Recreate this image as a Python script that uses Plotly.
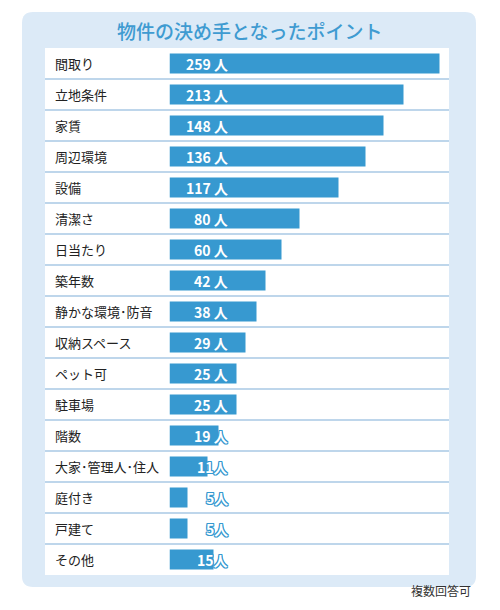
import plotly.graph_objects as go

categories = ['間取り', '立地条件', '家賃', '周辺環境', '設備', '清潔さ', '日当たり',
              '築年数', '静かな環境･防音', '収納スペース', 'ペット可', '駐車場', '階数',
              '大家･管理人･住人', '庭付き', '戸建て', 'その他']
counts = [259, 213, 148, 136, 117, 80, 60, 42, 38, 29, 25, 25, 19, 11, 5, 5, 15]
# bar lengths as drawn in the original graphic (not proportional to the counts)
bar_len = [270, 234, 214, 196, 169, 130, 112, 96, 87, 76, 67, 67, 49, 38, 18, 18, 44]

W, H = 500, 610
BLUE = '#3799d0'
PANEL = '#dceaf7'
JP = 'Noto Sans CJK JP'


def px(x):
    return x / W


def py(y):
    return 1 - y / H


fig = go.Figure(go.Bar(
    x=bar_len, y=categories, orientation='h',
    marker=dict(color=BLUE, line=dict(width=0)),
    width=0.65, hoverinfo='skip'
))

# rounded light-blue panel
x0, x1, y0, y1, r = 22, 476, 12, 587, 11
path = (f"M {px(x0 + r)} {py(y0)} L {px(x1 - r)} {py(y0)} "
        f"Q {px(x1)} {py(y0)} {px(x1)} {py(y0 + r)} L {px(x1)} {py(y1 - r)} "
        f"Q {px(x1)} {py(y1)} {px(x1 - r)} {py(y1)} L {px(x0 + r)} {py(y1)} "
        f"Q {px(x0)} {py(y1)} {px(x0)} {py(y1 - r)} L {px(x0)} {py(y0 + r)} "
        f"Q {px(x0)} {py(y0)} {px(x0 + r)} {py(y0)} Z")
shapes = [
    dict(type='path', xref='paper', yref='paper', path=path,
         fillcolor=PANEL, line=dict(width=0), layer='below'),
    dict(type='rect', xref='paper', yref='paper', x0=px(45), x1=px(449),
         y0=py(575), y1=py(48), fillcolor='white', line=dict(width=0), layer='below'),
]
for i in range(len(categories) - 1):
    shapes.append(dict(type='line', xref='paper', yref='y', x0=px(45), x1=px(449),
                       y0=i + 0.5, y1=i + 0.5, layer='below',
                       line=dict(color='#a8c9e4', width=1.5)))

outline = ', '.join(f'{a}px {b}px 0 {BLUE}' for a, b in
                    [(1, 0), (-1, 0), (0, 1), (0, -1), (1, 1), (-1, -1), (1, -1), (-1, 1)])

annotations = []
for cat, v in zip(categories, counts):
    annotations.append(dict(xref='paper', yref='y', x=px(53), y=cat, text=cat,
                            showarrow=False, xanchor='left',
                            font=dict(family=JP, size=13, color='#222')))
    annotations.append(dict(xref='x', yref='y', x=60, y=cat,
                            text=f'{v} 人' if v >= 19 else f'{v}人',
                            showarrow=False, xanchor='right',
                            font=dict(family=JP, size=14, color='white',
                                      weight='bold', shadow=outline)))

annotations.append(dict(xref='paper', yref='paper', x=px(249), y=py(15),
                        text='物件の決め手となったポイント', showarrow=False,
                        font=dict(family=JP, size=19, color='#3f9bd1', weight=500)))
annotations.append(dict(xref='paper', yref='paper', x=px(473), y=py(601),
                        text='複数回答可', showarrow=False, xanchor='right',
                        font=dict(family=JP, size=12, color='#333')))

fig.update_layout(
    width=W, height=H,
    margin=dict(l=0, r=0, t=0, b=0),
    paper_bgcolor='white', plot_bgcolor='rgba(0,0,0,0)',
    showlegend=False,
    shapes=shapes, annotations=annotations,
    xaxis=dict(domain=[px(169.5), px(449)], range=[0, 279.5], visible=False,
               fixedrange=True),
    yaxis=dict(domain=[py(575), py(48)], range=[16.5, -0.5], visible=False,
               fixedrange=True),
)

fig.write_html('out.html', config={'displayModeBar': False},
               post_script="document.body.style.margin='0';")
